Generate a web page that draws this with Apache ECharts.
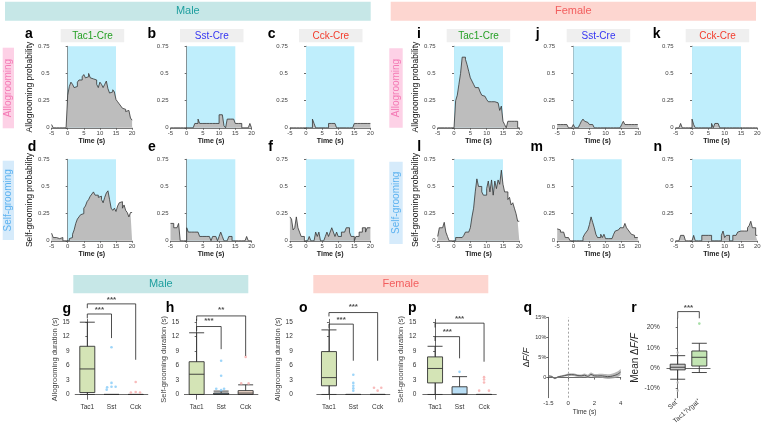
<!DOCTYPE html>
<html><head><meta charset="utf-8">
<script src="https://cdn.jsdelivr.net/npm/echarts@6/dist/echarts.min.js"></script>
<style>html,body{margin:0;padding:0;background:#fff}#c{width:763px;height:429px}</style>
</head><body><div id="c"></div>
<script>
// ---------- DATA ----------
const TIME = [-5,-4.5,-4,-3.5,-3,-2.5,-2,-1.5,-1,-0.5,0,0.5,1,1.5,2,2.5,3,3.5,4,4.5,5,5.5,6,6.5,7,7.5,8,8.5,9,9.5,10,10.5,11,11.5,12,12.5,13,13.5,14,14.5,15,15.5,16,16.5,17,17.5,18,18.5,19,19.5,20];
const TIME_TICKS = [-5,0,5,10,15,20];
const maleTacAllo = [0.03,0,0,0,0,0,0,0,0,0, 0.30,0.38,0.42,0.40,0.37,0.38,0.42,0.44,0.44,0.47, 0.49,0.46,0.47,0.50,0.46,0.45,0.44,0.44,0.40,0.37, 0.42,0.40,0.37,0.40,0.43,0.36,0.32,0.33,0.35,0.33, 0.26,0.24,0.22,0.20,0.18,0.17,0.15,0.16,0.16,0.09,0.07];
const maleSstAllo = [0,0,0,0,0,0,0,0,0,0, 0,0,0,0,0,0.04,0.04,0.08,0.04,0.04, 0.04,0.04,0.04,0.04,0.04,0.04,0.04,0.04,0.04,0.04, 0.12,0.12,0.12,0.02,0,0.08,0.08,0.08,0.08,0.08, 0.04,0.04,0.04,0.04,0,0,0,0,0,0.04,0];
const maleCckAllo = [0,0,0,0,0,0,0,0,0,0, 0,0,0,0,0.08,0.04,0,0,0,0, 0,0,0,0,0.04,0.04,0.04,0.04,0.04,0, 0,0,0,0,0,0,0,0,0,0, 0.04,0.04,0.04,0.04,0.04,0.04,0.04,0.04,0.04,0.04,0.04];
const femTacAllo = [0,0,0,0,0,0,0,0,0,0, 0,0.25,0.30,0.40,0.50,0.65,0.65,0.63,0.58,0.52, 0.46,0.43,0.40,0.37,0.37,0.37,0.33,0.30,0.29,0.28, 0.26,0.24,0.24,0.24,0.24,0.24,0.23,0.22,0.16,0.20, 0.06,0.03,0,0.06,0.06,0.06,0.06,0.06,0.06,0,0];
const femSstAllo = [0.03,0.03,0.03,0.03,0.03,0.03,0.03,0,0,0, 0.03,0,0,0,0.03,0.06,0.08,0.06,0.05,0.05, 0.03,0.03,0.03,0,0,0,0,0,0,0, 0,0,0,0,0,0,0,0,0,0, 0.03,0.06,0.03,0.03,0.03,0.03,0.03,0.03,0.03,0.03,0.03];
const femCckAllo = [0,0,0,0.04,0,0,0,0,0,0, 0.08,0.03,0,0,0,0,0,0,0,0, 0,0,0.04,0,0.04,0.04,0.04,0,0,0, 0,0,0,0,0,0,0,0,0,0, 0,0,0,0,0,0,0,0,0,0,0];
const maleTacSelf = [0.07,0.03,0.03,0.03,0.02,0.02,0.03,0,0,0, 0,0.02,0.03,0.06,0.10,0.16,0.20,0.22,0.24,0.25, 0.30,0.32,0.36,0.38,0.41,0.43,0.45,0.42,0.42,0.40, 0.41,0.38,0.35,0.40,0.44,0.46,0.38,0.30,0.28,0.30, 0.27,0.32,0.35,0.36,0.30,0.33,0.28,0.26,0.22,0.26,0.26];
const maleSstSelf = [0.16,0.16,0.12,0.12,0.12,0.16,0,0,0,0, 0.12,0.08,0.08,0.08,0.08,0.08,0.08,0.08,0.04,0.04, 0.04,0.04,0.04,0.04,0.04,0,0.04,0.04,0.04,0, 0.04,0.08,0.04,0,0,0,0.04,0.04,0,0, 0,0,0,0,0,0,0,0.04,0,0,0];
const maleCckSelf = [0.22,0.20,0.10,0.12,0.22,0.12,0.08,0.04,0.04,0, 0,0,0.04,0,0,0,0.08,0.04,0.08,0, 0,0,0.04,0.08,0.04,0.08,0.12,0.08,0.04,0.08, 0.04,0.04,0.08,0.08,0.08,0.12,0.12,0.08,0.04,0.04, 0,0.04,0.04,0.08,0.08,0.12,0.12,0.08,0.12,0.12,0.12];
const femTacSelf = [0.04,0.12,0.12,0.12,0.17,0.08,0.04,0,0,0, 0,0.03,0.03,0.03,0.03,0.03,0.05,0.08,0.08,0.08, 0.12,0.22,0.30,0.45,0.57,0.50,0.50,0.45,0.42,0.42, 0.48,0.55,0.45,0.56,0.42,0.55,0.48,0.56,0.52,0.65, 0.52,0.45,0.45,0.38,0.40,0.33,0.35,0.30,0.25,0.18,0.18];
const femSstSelf = [0.11,0.10,0.08,0.08,0.08,0.03,0.03,0.03,0,0, 0,0,0,0,0,0,0.03,0.06,0.08,0.10, 0.15,0.22,0.17,0.12,0.06,0.03,0.03,0.06,0.03,0.06, 0.02,0.02,0.02,0.02,0.02,0.06,0.09,0.10,0.10,0.12, 0.12,0.12,0.16,0.12,0.10,0.08,0.06,0.05,0.03,0.03,0.03];
const femCckSelf = [0,0,0,0.05,0.05,0.05,0,0,0,0, 0,0.05,0,0,0,0,0.05,0.05,0.05,0.05, 0.05,0.05,0,0,0,0,0,0,0.05,0.09, 0.03,0.05,0.05,0,0,0.05,0.05,0.05,0.08,0.09, 0.09,0.09,0.09,0.09,0.12,0.14,0.18,0.12,0.12,0.05,0.05];

const BOX_CATS = ['Tac1','Sst','Cck'];
const DUR_TICKS = [0,3,6,9,12,15];
// box: [min, Q1, median, Q3, max]
const gBoxes = [[0,0.4,5.3,10,15],[0,0,0,0,0],[0,0,0,0,0]];
const gOutliers = [[1,9.8],[1,2.4],[0.82,1.5],[1.0,1.6],[1.17,1.6],[0.8,1.0],[2,2.6],[1.8,0.4],[2,0.5],[2.18,0.4]];
const hBoxes = [[0,0,4.2,6.8,12.8],[0,0,0.1,0.3,0.7],[0,0,0.3,0.8,2.0]];
const hOutliers = [[1,7.0],[1,3.9],[0.8,1.2],[1.12,1.2],[1,0.9],[2,7.8],[1.82,2.3],[2.12,2.3]];
const oBoxes = [[0,1.8,3.5,8.9,13.4],[0,0,0,0,0],[0,0,0,0,0]];
const oOutliers = [[1,4.1],[1,2.4],[1,1.8],[1,1.3],[1,0.8],[1.85,1.4],[2.15,1.4],[2,0.8]];
const pBoxes = [[0,2.4,5.4,7.8,10],[0,0,0.1,1.6,3.7],[0,0,0,0,0]];
const pOutliers = [[1,4.7],[2,3.6],[2,3.1],[2,2.5],[1.8,0.8],[2.2,0.8]];
const gBrackets = [[[0,17.9],[0,18.8],[2,18.8],[2,7.2]], [[0,15.8],[0,16.7],[1,16.7],[1,11.7]]];
const gStars = [[1,19.7,'***'],[0.5,17.5,'***']];
const hBrackets = [[[0,15.3],[0,16.3],[2,16.3],[2,8]], [[0,13.2],[0,14.1],[1,14.1],[1,9.4]]];
const hStars = [[1,17.5,'**'],[0.5,15.3,'***']];
const oBrackets = [[[0,16.2],[0,17],[2,17],[2,7]], [[0,13.7],[0,14.6],[1,14.6],[1,7]]];
const oStars = [[1,18.1,'***'],[0.5,15.6,'***']];
const pBrackets = [[[0,13.9],[0,14.8],[2,14.8],[2,6.8]], [[0,11.1],[0,12],[1,12],[1,7.5]]];
const pStars = [[1,15.8,'***'],[0.5,13.1,'***']];

const Q_TIME = ['-1.5','-1.25','-1','-0.75','-0.5','-0.25','0','0.25','0.5','0.75','1','1.25','1.5','1.75','2','2.25','2.5','2.75','3','3.25','3.5','3.75','4'];
const Q_MEAN = [0.4,0.3,-0.2,0.2,0.35,0.5,0.7,0.75,0.7,0.5,0.45,0.6,0.3,0.8,0.45,0.4,0.45,0.35,0.25,0.3,0.5,0.8,1.4];
const Q_SEM = [0.15,0.15,0.2,0.2,0.2,0.25,0.3,0.35,0.35,0.35,0.35,0.4,0.4,0.45,0.45,0.5,0.5,0.55,0.6,0.6,0.65,0.7,0.75];
const Q_XTICKS = ['-1.5','0','2','4'];
const Q_YTICKS = [0,5,10,15];

const R_CATS = ['Sst\u207A','Tac1\u207A/Vgat\u207A'];
const R_TICKS = [-10,0,10,20];
const rBoxes = [[-5.4,-0.8,0.5,2.0,6.2],[-2.1,1.1,5.4,8.5,12.3]];
const rOutliers = [[0,7.7],[0,-7],[0,-11],[1,22]];
const rBrackets = [[[0,24.6],[0,27.9],[1,27.9],[1,24.6]]];
const rStars = [[0.5,29.9,'***']];

// ---------- BUILD ----------
const FONT = '"Liberation Sans", Arial, sans-serif';
const grids=[], xAxes=[], yAxes=[], series=[], graphics=[];

function addHist(left, top, width, vals, yName){
  const gi = grids.length;
  grids.push({left:left, top:top, width:width, height:81.5, outerBoundsMode:'none'});
  const xi = xAxes.length, yi = yAxes.length;
  xAxes.push({gridIndex:gi, type:'value', min:-5, max:20, interval:5,
    name:'Time (s)', nameLocation:'middle', nameGap:9,
    nameTextStyle:{fontSize:7, fontWeight:'bold', color:'#222', fontFamily:FONT},
    axisLine:{lineStyle:{color:'#555', width:0.8}},
    axisTick:{length:2, lineStyle:{color:'#555', width:0.8}, customValues:TIME_TICKS},
    axisLabel:{fontSize:6, color:'#444', margin:3, fontFamily:FONT, customValues:TIME_TICKS},
    splitLine:{show:false}});
  yAxes.push({gridIndex:gi, type:'value', min:0, max:0.75, interval:0.25,
    name:yName||'', nameLocation:'middle', nameGap:16,
    nameTextStyle:{fontSize:8.5, color:'#111', fontFamily:FONT},
    axisLine:{show:true, lineStyle:{color:'#444', width:0.8}},
    axisTick:{show:true, length:2, lineStyle:{color:'#444', width:0.8}},
    axisLabel:{fontSize:6, color:'#444', margin:2, fontFamily:FONT},
    splitLine:{show:false}});
  series.push({type:'line', xAxisIndex:xi, yAxisIndex:yi, step:'end', symbol:'none',
    data: TIME.map((t,i)=>[t, vals[i]]),
    lineStyle:{color:'#333', width:0.8}, areaStyle:{color:'#bdbdbd', opacity:1}, z:3,
    markArea:{silent:true, itemStyle:{color:'#bfeefc'}, data:[[{xAxis:0},{xAxis:15}]]}});
}

addHist(51.6, 46.3, 80.5, maleTacAllo, 'Allogrooming probability');
addHist(170.5, 46.3, 81, maleSstAllo);
addHist(289.9, 46.3, 80.5, maleCckAllo);
addHist(437.7, 46.3, 81.6, femTacAllo, 'Allogrooming probability');
addHist(557.2, 46.3, 80.6, femSstAllo);
addHist(675.7, 46.3, 81.6, femCckAllo);
addHist(51.6, 159.3, 80.5, maleTacSelf, 'Self-grooming probability');
addHist(170.5, 159.3, 81, maleSstSelf);
addHist(289.9, 159.3, 80.5, maleCckSelf);
addHist(437.7, 159.3, 81.6, femTacSelf, 'Self-grooming probability');
addHist(557.2, 159.3, 80.6, femSstSelf);
addHist(675.7, 159.3, 81.6, femCckSelf);

function addBox(o){
  const gi = grids.length;
  grids.push({left:o.left, top:o.top, width:o.width, height:o.height, outerBoundsMode:'none'});
  const cx = xAxes.length;
  xAxes.push({gridIndex:gi, type:'category', data:o.cats,
    axisLine:{lineStyle:{color:'#444', width:0.8}},
    axisTick:{alignWithLabel:true, length:2, lineStyle:{color:'#444', width:0.8}},
    axisLabel:{fontSize:6.5, color:'#333', margin:o.labelMargin||4, rotate:o.rotate||0, fontFamily:FONT}});
  const vx = xAxes.length;
  xAxes.push({gridIndex:gi, type:'value', min:-0.5, max:o.cats.length-0.5, show:false});
  const yi = yAxes.length;
  yAxes.push({gridIndex:gi, type:'value', min:o.yMin, max:o.yMax, offset:o.offset,
    name:o.yName, nameLocation:'middle', nameGap:o.nameGap,
    nameTextStyle:o.nameStyle || {fontSize:7.5, color:'#444', fontFamily:FONT},
    axisLine:{show:true, lineStyle:{color:'#444', width:0.8}},
    axisTick:{show:true, length:2, lineStyle:{color:'#444', width:0.8}, customValues:o.ticks},
    axisLabel:{fontSize:6.5, color:'#333', margin:2, fontFamily:FONT, customValues:o.ticks, formatter:o.fmt},
    splitLine:{show:false}});
  series.push({type:'boxplot', xAxisIndex:cx, yAxisIndex:yi, boxWidth:[o.bw,o.bw],
    data:o.boxes.map((b,i)=>({value:b, itemStyle:{color:o.fills[i], borderColor:'#333', borderWidth:0.9}}))});
  series.push({type:'scatter', xAxisIndex:vx, yAxisIndex:yi, symbolSize:2.6, clip:false,
    data:o.outliers.map(p=>({value:p, itemStyle:{color:o.outColors[Math.round(p[0])]}}))});
  o.brackets.forEach(b=>{
    series.push({type:'line', xAxisIndex:vx, yAxisIndex:yi, data:b, symbol:'none', clip:false,
      lineStyle:{color:'#222', width:0.8}, z:5});
  });
  series.push({type:'scatter', xAxisIndex:vx, yAxisIndex:yi, symbolSize:1, clip:false,
    itemStyle:{color:'rgba(0,0,0,0)'},
    data:o.stars.map(s=>({value:[s[0],s[1]], label:{formatter:s[2]}})),
    label:{show:true, position:'inside', fontSize:8, fontWeight:'bold', color:'#222', fontFamily:FONT}});
}
const durFmt = v=>String(v);
const durBase = {cats:BOX_CATS, top:319.3, height:80, yMin:-1, yMax:15.6, ticks:DUR_TICKS, fmt:durFmt, bw:15,
  fills:['#d4e4b6','#b9def5','#fae2d4'], outColors:['#9fd27f','#84cbf7','#f6aaaa']};
addBox(Object.assign({}, durBase, {left:75.2, width:72.6, offset:3.5, boxes:gBoxes, outliers:gOutliers, brackets:gBrackets, stars:gStars, yName:'Allogrooming duration (s)', nameGap:12}));
addBox(Object.assign({}, durBase, {left:184.4, width:73.5, offset:3.4, boxes:hBoxes, outliers:hOutliers, brackets:hBrackets, stars:hStars, yName:'Self-grooming duration (s)', nameGap:12}));
addBox(Object.assign({}, durBase, {left:316.8, width:73, offset:22, boxes:oBoxes, outliers:oOutliers, brackets:oBrackets, stars:oStars, yName:'Allogrooming duration (s)', nameGap:8}));
addBox(Object.assign({}, durBase, {left:422.8, width:73.5, offset:4.5, boxes:pBoxes, outliers:pOutliers, brackets:pBrackets, stars:pStars, yName:'Self-grooming duration (s)', nameGap:11}));

// q line plot (category time axis so the band can stack)
(function(){
  const gi = grids.length;
  grids.push({left:548.3, top:317.3, width:72.4, height:80.4, outerBoundsMode:'none'});
  const xi = xAxes.length, yi = yAxes.length;
  const showTick = (idx, val) => Q_XTICKS.indexOf(String(val)) >= 0;
  xAxes.push({gridIndex:gi, type:'category', data:Q_TIME, boundaryGap:false,
    name:'Time (s)', nameLocation:'middle', nameGap:11,
    nameTextStyle:{fontSize:6.5, color:'#333', fontFamily:FONT},
    axisLine:{lineStyle:{color:'#444', width:0.8}},
    axisTick:{length:2, lineStyle:{color:'#444', width:0.8}, interval:showTick},
    axisLabel:{fontSize:6, color:'#333', margin:3, fontFamily:FONT, interval:showTick},
    splitLine:{show:false}});
  yAxes.push({gridIndex:gi, type:'value', min:-5, max:15,
    name:'{d|\u0394}{i|F/F}', nameLocation:'middle', nameGap:17,
    nameTextStyle:{fontFamily:FONT, rich:{d:{fontSize:9, color:'#222', fontFamily:FONT}, i:{fontSize:9, fontStyle:'italic', color:'#222', fontFamily:FONT}}},
    axisLine:{show:true, lineStyle:{color:'#444', width:0.8}},
    axisTick:{show:true, length:2, lineStyle:{color:'#444', width:0.8}, customValues:Q_YTICKS},
    axisLabel:{fontSize:5.5, color:'#333', margin:2, fontFamily:FONT, customValues:Q_YTICKS, formatter:v=>v===0?'0':v+'%'},
    splitLine:{show:false}});
  series.push({type:'line', xAxisIndex:xi, yAxisIndex:yi, stack:'band', stackStrategy:'all', symbol:'none', smooth:0.3,
    data:Q_MEAN.map((m,i)=>m-Q_SEM[i]), lineStyle:{opacity:0}, z:2});
  series.push({type:'line', xAxisIndex:xi, yAxisIndex:yi, stack:'band', stackStrategy:'all', symbol:'none', smooth:0.3,
    data:Q_SEM.map(s=>2*s), lineStyle:{opacity:0}, areaStyle:{color:'#a0a0a0', opacity:0.75}, z:2});
  series.push({type:'line', xAxisIndex:xi, yAxisIndex:yi, symbol:'none', smooth:0.3,
    data:Q_MEAN, lineStyle:{color:'#555', width:1}, z:3,
    markLine:{silent:true, symbol:'none', label:{show:false}, lineStyle:{color:'#9a9a9a', type:[2,2], width:0.9},
      data:[{xAxis:'0'}]}});
})();

// r box plot
addBox({cats:R_CATS, left:666.9, width:43.2, top:318.3, height:79.4, offset:5.2, yMin:-14.5, yMax:24.6,
  ticks:R_TICKS, fmt:v=>v+'%', bw:15, rotate:40, labelMargin:3,
  fills:['#c9c9c9','#c3e5b3'], outColors:['#b8b8b8','#8fd68f'],
  boxes:rBoxes, outliers:rOutliers, brackets:rBrackets, stars:rStars,
  yName:'{n|Mean \u0394}{i|F/F}', nameGap:17,
  nameStyle:{fontFamily:FONT, rich:{n:{fontSize:10, color:'#222', fontFamily:FONT}, i:{fontSize:10, fontStyle:'italic', color:'#222', fontFamily:FONT}}}});

// ---------- ANNOTATIONS ----------
function rect(x,y,w,h,fill){graphics.push({type:'rect', shape:{x:x,y:y,width:w,height:h}, style:{fill:fill}, silent:true, z:-1});}
function txt(x,y,s,font,fill,rot){graphics.push({type:'text', x:x, y:y, rotation:rot||0, silent:true,
  style:{text:s, font:font, fill:fill, align:'center', verticalAlign:'middle', textAlign:'center', textVerticalAlign:'middle'}});}
const F = ' "Liberation Sans", Arial, sans-serif';
rect(5,1.7,365.7,19,'#c6e7e7'); txt(187.8,11.3,'Male','11px'+F,'#1f9f9f');
rect(390.7,1.7,365.3,19,'#fdd6d0'); txt(573.3,11.3,'Female','11px'+F,'#f25e5e');
rect(73.3,275,175,18.3,'#c6e7e7'); txt(160.8,284.2,'Male','11px'+F,'#1f9f9f');
rect(313.3,275,175,18.3,'#fdd6d0'); txt(400.8,284.2,'Female','11px'+F,'#f25e5e');
const geno = [[60.7,'Tac1-Cre','#25a025'],[180,'Sst-Cre','#3535f2'],[299,'Cck-Cre','#f23c2c'],
              [446.7,'Tac1-Cre','#25a025'],[566.7,'Sst-Cre','#3535f2'],[685.7,'Cck-Cre','#f23c2c']];
geno.forEach(g=>{rect(g[0],29,63.5,13.3,'#efefef'); txt(g[0]+31.8,35.8,g[1],'10px'+F,g[2]);});
rect(2.7,47.7,11.3,80.6,'#fdd1e6'); txt(8.4,88,'Allogrooming','10px'+F,'#f47ab5',Math.PI/2);
rect(389.3,48.3,13.4,79.4,'#fdd1e6'); txt(396,88,'Allogrooming','10px'+F,'#f47ab5',Math.PI/2);
rect(2.7,160.7,11.3,79.3,'#d6ebfb'); txt(8.4,200.3,'Self-grooming','10px'+F,'#5db2f0',Math.PI/2);
rect(389.3,161.7,13.4,82.3,'#d6ebfb'); txt(396,202.8,'Self-grooming','10px'+F,'#5db2f0',Math.PI/2);
const letters = [['a',29,34],['b',151.7,34],['c',271.7,34],['i',419,34],['j',537.7,34],['k',656.7,34],
  ['d',32,146.7],['e',152,146.7],['f',270.7,146.7],['l',419.3,146.7],['m',536.7,146.7],['n',657.7,146.7],
  ['g',66.7,309],['h',170,308.5],['o',303.3,308.5],['p',412.3,308],['q',527.7,308],['r',634,308]];
letters.forEach(l=>txt(l[1],l[2],l[0],'bold 14px'+F,'#000'));

const chart = echarts.init(document.getElementById('c'));
chart.setOption({
  animation:false, backgroundColor:'#fff',
  textStyle:{fontFamily:FONT},
  grid:grids, xAxis:xAxes, yAxis:yAxes, series:series, graphic:{elements:graphics}
});
</script></body></html>
